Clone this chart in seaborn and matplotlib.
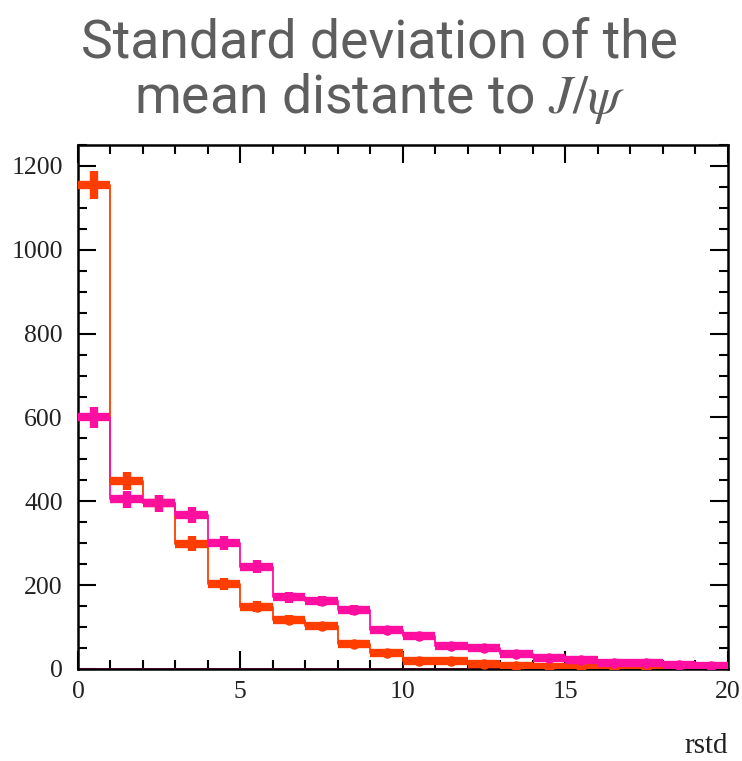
import numpy as np
import pandas as pd
import matplotlib
matplotlib.use("Agg")
import matplotlib.pyplot as plt
from matplotlib.ticker import MultipleLocator
import seaborn as sns

# Histogram binning and per-bin counts of the two samples
bin_edges = list(range(0, 21))
counts_red = [1155, 448, 396, 299, 202, 149, 117, 103, 60, 37,
              20, 20, 11, 6, 5, 4, 1, 1, 0, 0]
counts_pink = [600, 405, 395, 368, 300, 244, 171, 162, 140, 92,
               78, 55, 49, 35, 27, 22, 15, 14, 10, 7]
series_colors = ["#ff3d00", "#ff0fa0"]
x_label = "rstd"
title_lines = ["Standard deviation of the", r"mean distante to $J/\psi$"]

sns.set_style("ticks")
plt.rcParams["mathtext.fontset"] = "stix"
serif = "Liberation Serif"

fig = plt.figure(figsize=(7.42, 7.61), dpi=100)
ax = fig.add_axes([0.1051, 0.1209, 0.8754, 0.6886])

edges = np.asarray(bin_edges, dtype=float)
centers = (edges[:-1] + edges[1:]) / 2
for counts, col in zip([counts_red, counts_pink], series_colors):
    df = pd.DataFrame({"rstd": centers, "n": np.asarray(counts, dtype=float)})
    # outlined histogram (closed at both ends, like a ROOT HIST draw)
    sns.histplot(data=df, x="rstd", weights="n", bins=bin_edges,
                 element="step", fill=True, color=col, facecolor="none",
                 edgecolor=col, linewidth=1.3, ax=ax, zorder=2)
    # Poisson error bars with full-bin horizontal extent
    nz = df[df["n"] > 0]
    ax.errorbar(nz["rstd"], nz["n"], xerr=0.5, yerr=np.sqrt(nz["n"]),
                fmt="o", ms=6.5, color=col, elinewidth=6, capsize=0,
                zorder=3)

ax.set_xlim(0, 20)
ax.set_ylim(0, 1250)
ax.xaxis.set_major_locator(MultipleLocator(5))
ax.xaxis.set_minor_locator(MultipleLocator(1))
ax.yaxis.set_major_locator(MultipleLocator(200))
ax.yaxis.set_minor_locator(MultipleLocator(50))
ax.tick_params(which="both", direction="in", top=True, right=True,
               width=1.5, color="black")
ax.tick_params(which="major", length=13, labelsize=18.5, labelcolor="#222222")
ax.tick_params(which="minor", length=6.5)
ax.tick_params(axis="y", which="major", pad=11)
ax.tick_params(axis="x", which="major", pad=9)
for lab in ax.get_xticklabels() + ax.get_yticklabels():
    lab.set_family(serif)
for sp in ax.spines.values():
    sp.set_linewidth(1.8)
    sp.set_color("black")

ax.set_ylabel("")
ax.set_xlabel(x_label, loc="right", fontsize=21, family=serif,
              color="#222222", labelpad=21)

for line, y_px in zip(title_lines, [57, 113]):
    fig.text(0.512, 1 - y_px / 761, line, ha="center", va="baseline",
             fontsize=38.5, color="#5e5e5e", family="Roboto")

fig.savefig("out.png", dpi=100)
